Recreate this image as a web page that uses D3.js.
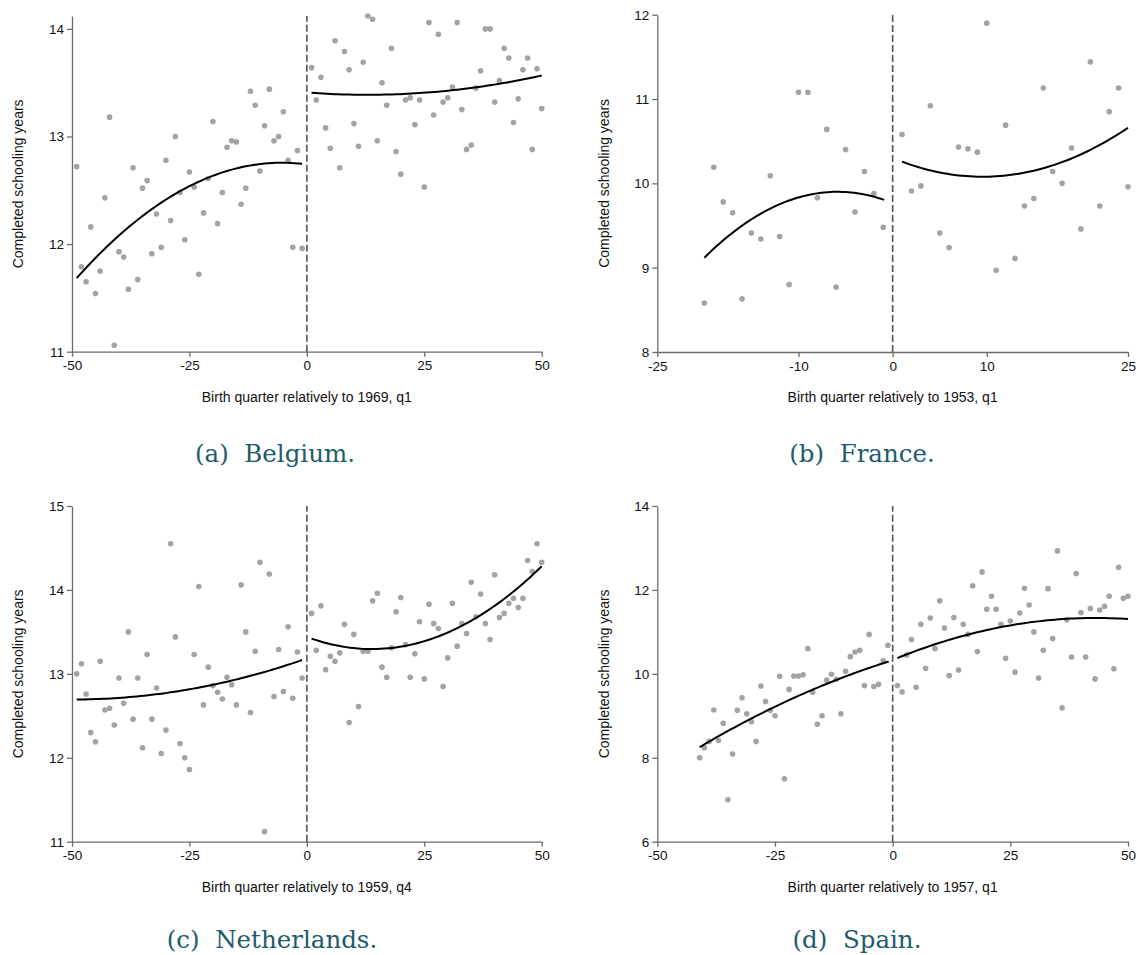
<!DOCTYPE html>
<html>
<head>
<meta charset="utf-8">
<script src="https://cdn.jsdelivr.net/npm/d3@7/dist/d3.min.js"></script>
<style>
  html, body { margin: 0; padding: 0; background: #fff; }
  svg { display: block; }
  .tick text { font-family: "Liberation Sans", Arial, sans-serif; font-size: 13.5px; fill: #111; }
  .axis-title { font-family: "Liberation Sans", Arial, sans-serif; font-size: 14px; fill: #111; }
  .caption { font-family: "DejaVu Serif", serif; font-size: 24.5px; fill: #1d5b6d; white-space: pre; }
</style>
</head>
<body>
<svg id="chart" width="1138" height="955"></svg>
<script>
// ---------------- DATA ----------------
// Belgium (cutoff 1969 q1)
const belgiumLeftX = d3.range(-49, 0);
const belgiumLeftY = [12.72, 11.79, 11.65, 12.16, 11.54, 11.75, 12.43, 13.18, 11.06, 11.93,
  11.88, 11.58, 12.71, 11.67, 12.52, 12.59, 11.91, 12.28, 11.97, 12.78,
  12.22, 13.00, 12.48, 12.04, 12.67, 12.53, 11.72, 12.29, 12.61, 13.14,
  12.19, 12.48, 12.90, 12.96, 12.95, 12.37, 12.52, 13.42, 13.29, 12.68,
  13.10, 13.44, 12.96, 13.00, 13.23, 12.78, 11.97, 12.87, 11.96];
const belgiumRightX = d3.range(1, 51);
const belgiumRightY = [13.64, 13.34, 13.55, 13.08, 12.89, 13.89, 12.71, 13.79, 13.62, 13.12,
  12.91, 13.69, 14.12, 14.09, 12.96, 13.50, 13.29, 13.82, 12.86, 12.65,
  13.34, 13.36, 13.11, 13.34, 12.53, 14.06, 13.20, 13.95, 13.32, 13.36,
  13.46, 14.06, 13.25, 12.88, 12.92, 13.45, 13.61, 14.00, 14.00, 13.32,
  13.52, 13.82, 13.73, 13.13, 13.35, 13.62, 13.73, 12.88, 13.63, 13.26];
const belgiumFitLeft = [[-49, 11.67], [-45.5, 11.87], [-38.4, 12.14], [-31.3, 12.37], [-24.2, 12.55], [-17.1, 12.68], [-10, 12.75], [-6, 12.76], [-1, 12.74]];
const belgiumFitRight = [[1, 13.41], [7.7, 13.39], [16.3, 13.38], [30.4, 13.43], [41, 13.50], [50, 13.56]];

// France (cutoff 1953 q1)
const franceLeftX = d3.range(-20, 0);
const franceLeftY = [8.58, 10.19, 9.78, 9.65, 8.63, 9.41, 9.34, 10.09, 9.37, 8.80,
  11.08, 11.08, 9.83, 10.64, 8.77, 10.40, 9.66, 10.14, 9.88, 9.48];
const franceRightX = d3.range(1, 26);
const franceRightY = [10.58, 9.91, 9.97, 10.92, 9.41, 9.24, 10.43, 10.41, 10.37, 11.90,
  8.97, 10.69, 9.11, 9.73, 9.82, 11.13, 10.14, 10.00, 10.42, 9.46,
  11.44, 9.73, 10.85, 11.13, 9.96];
const franceFitLeft = [[-20, 9.13], [-15.2, 9.54], [-11.6, 9.76], [-8.8, 9.87], [-6.5, 9.92], [-3.8, 9.89], [-0.9, 9.79]];
const franceFitRight = [[1, 10.25], [5, 10.14], [9.6, 10.08], [15.7, 10.16], [21, 10.40], [25, 10.66]];

// Netherlands (cutoff 1959 q4)
const netherlandsLeftX = d3.range(-49, 0);
const netherlandsLeftY = [13.00, 13.12, 12.76, 12.30, 12.19, 13.15, 12.57, 12.59, 12.39, 12.95,
  12.65, 13.50, 12.46, 12.95, 12.12, 13.23, 12.46, 12.83, 12.05, 12.33,
  14.55, 13.44, 12.17, 12.00, 11.86, 13.23, 14.04, 12.63, 13.08, 12.86,
  12.78, 12.70, 12.96, 12.87, 12.63, 14.06, 13.50, 12.54, 13.27, 14.33,
  11.12, 14.19, 12.73, 13.29, 12.79, 13.56, 12.71, 13.26, 12.95];
const netherlandsRightX = d3.range(1, 51);
const netherlandsRightY = [13.72, 13.28, 13.81, 13.05, 13.21, 13.15, 13.25, 13.59, 12.42, 13.47,
  12.61, 13.27, 13.27, 13.87, 13.96, 13.08, 12.96, 13.31, 13.74, 13.91,
  13.35, 12.96, 13.24, 13.62, 12.94, 13.83, 13.60, 13.54, 12.85, 13.19,
  13.84, 13.33, 13.60, 13.48, 14.09, 13.68, 13.95, 13.60, 13.41, 14.18,
  13.67, 13.72, 13.84, 13.90, 13.79, 13.90, 14.35, 14.22, 14.55, 14.33];
const netherlandsFitLeft = [[-49, 12.69], [-41.9, 12.71], [-31.3, 12.77], [-17.1, 12.90], [-10, 13.00], [-1, 13.17]];
const netherlandsFitRight = [[1, 13.42], [7, 13.33], [14.1, 13.29], [23.4, 13.38], [34, 13.60], [41.1, 13.84], [50, 14.29]];

// Spain (cutoff 1957 q1)
const spainLeftX = d3.range(-41, 0);
const spainLeftY = [8.00, 8.24, 8.39, 9.14, 8.41, 8.82, 7.00, 8.09, 9.13, 9.43,
  9.05, 8.86, 8.39, 9.71, 9.34, 9.13, 9.00, 9.94, 7.50, 9.63,
  9.95, 9.95, 9.98, 10.60, 9.56, 8.80, 9.00, 9.85, 9.99, 9.87,
  9.05, 10.06, 10.41, 10.52, 10.56, 9.72, 10.94, 9.70, 9.75, 10.31, 10.68];
const spainRightX = d3.range(1, 51);
const spainRightY = [9.72, 9.57, 10.45, 10.82, 9.68, 11.18, 10.13, 11.33, 10.60, 11.74,
  11.09, 9.96, 11.34, 10.09, 11.18, 10.94, 12.10, 10.53, 12.43, 11.54,
  11.85, 11.54, 11.18, 10.37, 11.26, 10.04, 11.45, 12.04, 11.64, 11.00,
  9.90, 10.56, 12.03, 10.84, 12.93, 9.19, 11.29, 10.40, 12.39, 11.46,
  10.40, 11.56, 9.88, 11.52, 11.61, 11.85, 10.12, 12.54, 11.80, 11.85];
const spainFitLeft = [[-41, 8.24], [-37.4, 8.50], [-30.3, 8.93], [-23.2, 9.31], [-16.1, 9.66], [-9.1, 9.97], [-0.85, 10.30]];
const spainFitRight = [[1, 10.39], [10.1, 10.72], [20.7, 11.06], [31.3, 11.27], [39.8, 11.33], [50, 11.30]];

// Tick labels
const ticksX100 = [-50, -25, 0, 25, 50];
const ticksX50 = [-25, -10, 0, 10, 25];
const ticksYBelgium = [11, 12, 13, 14];
const ticksYFrance = [8, 9, 10, 11, 12];
const ticksYNetherlands = [11, 12, 13, 14, 15];
const ticksYSpain = [6, 8, 10, 12, 14];

const xTitles = ["Birth quarter relatively to 1969, q1", "Birth quarter relatively to 1953, q1",
                 "Birth quarter relatively to 1959, q4", "Birth quarter relatively to 1957, q1"];
const captions = ["(a)  Belgium.", "(b)  France.", "(c)  Netherlands.", "(d)  Spain."];
const yTitle = "Completed schooling years";

// ---------------- LAYOUT ----------------
const panels = [
  { xDom: [-50, 50], yDom: [11, 14.12], xR: [72, 541.7], yR: [351.7, 16], xTicks: ticksX100, yTicks: ticksYBelgium,
    lx: belgiumLeftX, ly: belgiumLeftY, rx: belgiumRightX, ry: belgiumRightY, fl: belgiumFitLeft, fr: belgiumFitRight,
    xt: xTitles[0], cap: captions[0], capX: 275, capY: 462, ytX: 23 },
  { xDom: [-25, 25], yDom: [8, 12], xR: [657.3, 1128], yR: [352, 14.7], xTicks: ticksX50, yTicks: ticksYFrance,
    lx: franceLeftX, ly: franceLeftY, rx: franceRightX, ry: franceRightY, fl: franceFitLeft, fr: franceFitRight,
    xt: xTitles[1], cap: captions[1], capX: 862, capY: 462, ytX: 609 },
  { xDom: [-50, 50], yDom: [11, 15], xR: [72, 541.7], yR: [841.7, 506], xTicks: ticksX100, yTicks: ticksYNetherlands,
    lx: netherlandsLeftX, ly: netherlandsLeftY, rx: netherlandsRightX, ry: netherlandsRightY, fl: netherlandsFitLeft, fr: netherlandsFitRight,
    xt: xTitles[2], cap: captions[2], capX: 272, capY: 948, ytX: 23 },
  { xDom: [-50, 50], yDom: [6, 14], xR: [657.3, 1128], yR: [841.7, 506], xTicks: ticksX100, yTicks: ticksYSpain,
    lx: spainLeftX, ly: spainLeftY, rx: spainRightX, ry: spainRightY, fl: spainFitLeft, fr: spainFitRight,
    xt: xTitles[3], cap: captions[3], capX: 857, capY: 948, ytX: 609 }
];

// Smooth the curve with a least-squares parabola through its points
function smoothParabola(pts) {
  const n = pts.length;
  let s = [0, 0, 0, 0, 0], t = [0, 0, 0];
  pts.forEach(([x, y]) => {
    let p = 1;
    for (let k = 0; k < 5; k++) { s[k] += p; if (k < 3) t[k] += p * y; p *= x; }
  });
  const A = [[s[0], s[1], s[2]], [s[1], s[2], s[3]], [s[2], s[3], s[4]]];
  const b = t.slice();
  for (let i = 0; i < 3; i++) {
    for (let j = i + 1; j < 3; j++) {
      const f = A[j][i] / A[i][i];
      for (let k = i; k < 3; k++) A[j][k] -= f * A[i][k];
      b[j] -= f * b[i];
    }
  }
  const c = [0, 0, 0];
  for (let i = 2; i >= 0; i--) {
    let v = b[i];
    for (let k = i + 1; k < 3; k++) v -= A[i][k] * c[k];
    c[i] = v / A[i][i];
  }
  const x0 = pts[0][0], x1 = pts[n - 1][0];
  return d3.range(0, 61).map(i => {
    const x = x0 + (x1 - x0) * i / 60;
    return [x, c[0] + c[1] * x + c[2] * x * x];
  });
}

const svg = d3.select("#chart");
const axisColor = "#6b6b6b";

panels.forEach(p => {
  const x = d3.scaleLinear().domain(p.xDom).range(p.xR);
  const y = d3.scaleLinear().domain(p.yDom).range(p.yR);
  const g = svg.append("g");

  // axes
  const ax = g.append("g").attr("transform", `translate(0,${p.yR[0]})`)
    .call(d3.axisBottom(x).tickValues(p.xTicks).tickSize(5).tickSizeOuter(0).tickPadding(4).tickFormat(d3.format("d")));
  const ay = g.append("g").attr("transform", `translate(${p.xR[0]},0)`)
    .call(d3.axisLeft(y).tickValues(p.yTicks).tickSize(5).tickSizeOuter(0).tickPadding(3).tickFormat(d3.format("d")));
  [ax, ay].forEach(a => {
    a.select(".domain").attr("stroke", axisColor).attr("stroke-width", 1.3);
    a.selectAll(".tick line").attr("stroke", axisColor).attr("stroke-width", 1.3);
  });
  ax.selectAll(".tick text").text(d => d < 0 ? "-" + Math.abs(d) : d);

  // cutoff dashed line
  g.append("line")
    .attr("x1", x(0)).attr("x2", x(0))
    .attr("y1", p.yR[0]).attr("y2", p.yR[1])
    .attr("stroke", "#555").attr("stroke-width", 1.6).attr("stroke-dasharray", "7,3");

  // points
  const pts = p.lx.map((v, i) => [v, p.ly[i]]).concat(p.rx.map((v, i) => [v, p.ry[i]]));
  g.append("g").selectAll("circle").data(pts).join("circle")
    .attr("cx", d => x(d[0])).attr("cy", d => y(d[1])).attr("r", 2.8)
    .attr("fill", "#a3a3a3");

  // fits
  const line = d3.line().x(d => x(d[0])).y(d => y(d[1]));
  [p.fl, p.fr].forEach(f => {
    g.append("path").attr("d", line(smoothParabola(f))).attr("fill", "none")
      .attr("stroke", "#000").attr("stroke-width", 2);
  });

  // axis titles
  g.append("text").attr("class", "axis-title")
    .attr("x", (p.xR[0] + p.xR[1]) / 2).attr("y", p.yR[0] + 50)
    .attr("text-anchor", "middle").text(p.xt);
  g.append("text").attr("class", "axis-title")
    .attr("transform", `translate(${p.ytX},${(p.yR[0] + p.yR[1]) / 2}) rotate(-90)`)
    .attr("text-anchor", "middle").text(yTitle);

  // caption
  g.append("text").attr("class", "caption")
    .attr("x", p.capX).attr("y", p.capY)
    .attr("text-anchor", "middle").text(p.cap);
});
</script>
</body>
</html>
